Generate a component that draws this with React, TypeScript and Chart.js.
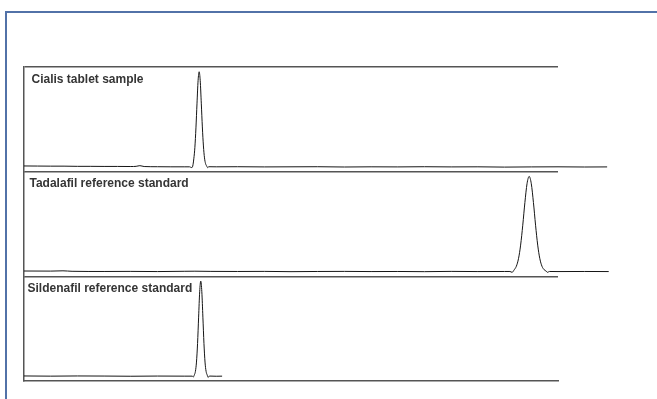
import React, { useEffect, useRef } from "react";
import { Chart, registerables } from "chart.js";

Chart.register(...registerables);

// Panel captions, top to bottom
const panelTitles = [
  "Cialis tablet sample",
  "Tadalafil reference standard",
  "Sildenafil reference standard",
];

// Retention time window framed by the panels (min)
const timeMin = 0;
const timeMax = 10;

// Detector response window per panel (normalised units)
const signalMin = -5;
const signalMax = 105;

// Cialis tablet sample trace
const cialisTime = [
  0.0, 0.25, 0.5, 0.75, 1.0, 1.25, 1.5, 1.75, 2.0, 2.1, 2.17, 2.25, 2.5, 2.75, 3.0,
  3.1, 3.14, 3.16, 3.18, 3.2, 3.22, 3.24, 3.26, 3.28, 3.3, 3.32, 3.34, 3.36, 3.38,
  3.4, 3.42, 3.44, 3.46, 3.6, 4.0, 4.5, 5.0, 5.5, 6.0, 6.5, 7.0, 7.5, 8.0, 8.5,
  9.0, 9.5, 10.0, 10.5, 10.92,
];
const cialisSignal = [
  1.0, 0.9, 0.8, 0.8, 0.6, 0.6, 0.5, 0.5, 0.4, 0.6, 1.3, 0.4, 0.2, 0.1, 0.1,
  0.1, -0.7, 0.9, 8.5, 20.6, 41, 67, 90.6, 100, 90.6, 67, 42, 22, 9.5,
  3.5, 1.0, -0.8, 0.2, 0.1, 0.2, 0.0, 0.1, 0.2, -0.1, 0.1, 0.0, 0.2, 0.0, 0.1,
  -0.2, 0.0, 0.1, -0.1, 0.0,
];

// Tadalafil reference standard trace
const tadalafilTime = [
  0.0, 0.5, 0.73, 0.9, 1.5, 2.0, 2.5, 3.0, 3.2, 3.5, 4.0, 4.5, 5.0, 5.5, 6.0, 6.5,
  7.0, 7.5, 8.0, 8.5, 9.0, 9.1, 9.14, 9.18, 9.22, 9.26, 9.3, 9.34, 9.38, 9.42,
  9.46, 9.5, 9.54, 9.58, 9.62, 9.66, 9.7, 9.74, 9.78, 9.8, 9.84, 10.0, 10.5, 10.95,
];
const tadalafilSignal = [
  0.6, 0.5, 0.8, 0.3, 0.1, 0.2, 0.0, 0.3, 0.4, 0.2, 0.1, 0.2, -0.1, 0.1, 0.2, 0.0,
  0.1, -0.1, 0.2, 0.0, 0.1, 0.1, -0.8, 1.9, 5.6, 13.5, 27.8, 48.7, 72.6, 92.3,
  100, 92.3, 72.6, 48.7, 27.8, 13.5, 5.6, 2.0, 0.4, -0.8, 0.1, 0.0, 0.1, 0.0,
];

// Sildenafil reference standard trace
const sildenafilTime = [
  0.0, 0.5, 1.0, 1.5, 2.0, 2.5, 3.0, 3.15, 3.17, 3.19, 3.21, 3.23, 3.25, 3.27,
  3.29, 3.31, 3.33, 3.35, 3.37, 3.39, 3.41, 3.43, 3.45, 3.47, 3.6, 3.71,
];
const sildenafilSignal = [
  0.3, 0.1, 0.3, 0.2, 0.0, 0.2, 0.1, 0.1, -0.8, 1.4, 5.1, 14.9, 34.3, 62.1,
  88.8, 100, 88.8, 62.1, 34.3, 14.9, 5.1, 1.4, -1.2, 0.2, 0.0, 0.1,
];

const traces = [
  { time: cialisTime, signal: cialisSignal },
  { time: tadalafilTime, signal: tadalafilSignal },
  { time: sildenafilTime, signal: sildenafilSignal },
];

const FRAME = "#555555";
const TRACE = "#151515";

// Caption inset from each panel's top-left corner
const captionInset = [
  { dx: 7.5, dy: 16 },
  { dx: 5.5, dy: 15.5 },
  { dx: 3.5, dy: 15.5 },
];

const captionPlugin = {
  id: "panelCaptions",
  afterDatasetsDraw(chart: any) {
    const { ctx, chartArea } = chart;
    ctx.save();
    ctx.font = "bold 12px 'Liberation Sans', Arial, sans-serif";
    ctx.fillStyle = "#353535";
    ctx.textBaseline = "alphabetic";
    ctx.textAlign = "left";
    panelTitles.forEach((title, i) => {
      const scale = chart.scales["y" + i];
      ctx.fillText(title, chartArea.left + captionInset[i].dx, scale.top + captionInset[i].dy);
    });
    ctx.restore();
  },
};

function panelAxis() {
  return {
    type: "linear" as const,
    position: "left" as const,
    stack: "panels",
    stackWeight: 1,
    min: signalMin,
    max: signalMax,
    afterBuildTicks(scale: any) {
      // only the frame line along each panel's upper edge
      scale.ticks = [{ value: scale.max }];
    },
    ticks: { display: false },
    grid: { display: true, drawTicks: false, color: FRAME, lineWidth: 1.5 },
    border: { display: true, color: FRAME, width: 1.5 },
  };
}

export default function App() {
  const canvasRef = useRef<HTMLCanvasElement>(null);

  useEffect(() => {
    if (!canvasRef.current) return;
    const chart = new Chart(canvasRef.current, {
      type: "line",
      data: {
        datasets: traces.map((t, i) => ({
          label: panelTitles[i],
          data: t.time.map((x, k) => ({ x, y: t.signal[k] })),
          yAxisID: "y" + i,
          borderColor: TRACE,
          borderWidth: 1,
          pointRadius: 0,
          fill: false,
          cubicInterpolationMode: "monotone" as const,
          clip: false as any,
        })),
      },
      options: {
        animation: false,
        responsive: false,
        devicePixelRatio: 1,
        layout: { padding: { left: 24, right: 99, top: 67, bottom: 18 } },
        plugins: {
          legend: { display: false },
          tooltip: { enabled: false },
          title: { display: false },
        },
        scales: {
          x: {
            type: "linear",
            bounds: "data",
            // the window is fixed after the data limits are read, so the
            // recorded runs keep drawing past the framed time window
            afterDataLimits(scale: any) {
              scale.min = timeMin;
              scale.max = timeMax;
            },
            ticks: { display: false },
            grid: { display: false, drawTicks: false },
            border: { display: true, color: FRAME, width: 1.5 },
          },
          // stacked axes are laid out bottom-up in definition order
          y2: panelAxis(),
          y1: panelAxis(),
          y0: panelAxis(),
        },
      },
      plugins: [captionPlugin],
    });
    return () => chart.destroy();
  }, []);

  return (
    <div style={{ position: "absolute", left: 0, top: 0, width: 657, height: 399, overflow: "hidden", background: "#ffffff" }}>
      <div
        style={{
          position: "absolute",
          left: 5,
          top: 11,
          width: 700,
          height: 420,
          borderTop: "2px solid #5272a8",
          borderLeft: "2px solid #5272a8",
        }}
      />
      <canvas ref={canvasRef} width={657} height={399} style={{ position: "absolute", left: 0, top: 0, width: 657, height: 399 }} />
    </div>
  );
}
